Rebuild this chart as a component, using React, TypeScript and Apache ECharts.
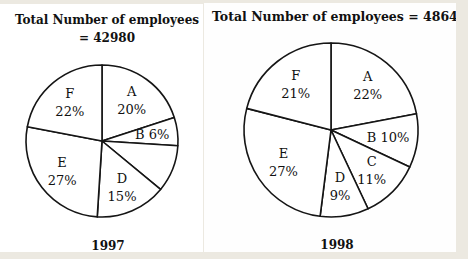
import React, { useEffect, useRef } from "react";
import * as echarts from "echarts";

const categories = ["A", "B", "C", "D", "E", "F"];
const values1997 = [20, 6, 10, 15, 27, 22];
const values1998 = [22, 10, 11, 9, 27, 21];
const total1997 = 42980;
const total1998 = 48640;
const years = ["1997", "1998"];

const SERIF = "'DejaVu Serif', 'Liberation Serif', serif";

function toData(vals: number[]) {
  return categories.map((c, i) => ({ name: c, value: vals[i] }));
}

const labelFmt = (p: any) =>
  p.name === "B" ? `B ${p.value}%` : `${p.name}\n${p.value}%`;

export default function App() {
  const ref = useRef<HTMLDivElement>(null);
  useEffect(() => {
    if (!ref.current) return;
    const chart = echarts.init(ref.current, undefined, { renderer: "svg" });
    const pieCommon = {
      type: "pie" as const,
      startAngle: 90,
      clockwise: true,
      silent: true,
      label: { show: false },
      labelLine: { show: false },
      itemStyle: { color: "#ffffff", borderColor: "#151515", borderWidth: 1.6 },
      emphasis: { disabled: true },
    };
    const labelPie = {
      type: "pie" as const,
      startAngle: 90,
      clockwise: true,
      silent: true,
      z: 5,
      label: {
        show: true,
        position: "inside" as const,
        formatter: labelFmt,
        fontFamily: SERIF,
        fontSize: 13,
        lineHeight: 18,
        color: "#111",
      },
      labelLine: { show: false },
      itemStyle: { color: "rgba(0,0,0,0)", borderWidth: 0 },
      emphasis: { disabled: true },
    };
    chart.setOption({
      animation: false,
      backgroundColor: "#ece9e1",
      title: [
        {
          text: `Total Number of employees\n= ${total1997}`,
          left: 102,
          top: 6,
          textAlign: "center",
          textStyle: {
            fontFamily: SERIF,
            fontWeight: "bold",
            fontSize: 12,
            lineHeight: 18,
            color: "#111",
            align: "center",
          },
        },
        {
          text: `Total Number of employees = ${total1998}`,
          left: 207,
          top: 5,
          textStyle: {
            fontFamily: SERIF,
            fontWeight: "bold",
            fontSize: 12.5,
            color: "#111",
          },
        },
        {
          text: years[0],
          left: 103,
          top: 235,
          textAlign: "center",
          textStyle: { fontFamily: SERIF, fontWeight: "bold", fontSize: 12, color: "#111" },
        },
        {
          text: years[1],
          left: 332,
          top: 234,
          textAlign: "center",
          textStyle: { fontFamily: SERIF, fontWeight: "bold", fontSize: 12, color: "#111" },
        },
      ],
      graphic: [
        { type: "rect", z: -10, shape: { x: 0, y: 4, width: 203, height: 248 }, style: { fill: "#ffffff" } },
        { type: "rect", z: -10, shape: { x: 204, y: 3, width: 252, height: 249 }, style: { fill: "#fefefe" } },
        { type: "rect", z: 100, shape: { x: 456, y: 0, width: 12, height: 259 }, style: { fill: "#ece9e1" } },
      ],
      series: [
        { ...pieCommon, name: years[0], center: [102, 141], radius: 76, data: toData(values1997) },
        { ...pieCommon, name: years[1], center: [331, 130], radius: 87, data: toData(values1998) },
        { ...labelPie, name: years[0] + " labels", center: [102, 141], radius: [19, 76], data: toData(values1997) },
        { ...labelPie, name: years[1] + " labels", center: [331, 130], radius: [22, 87], data: toData(values1998) },
      ],
    });
    return () => chart.dispose();
  }, []);
  return (
    <div
      ref={ref}
      style={{ position: "absolute", left: 0, top: 0, width: 468, height: 259 }}
    />
  );
}
